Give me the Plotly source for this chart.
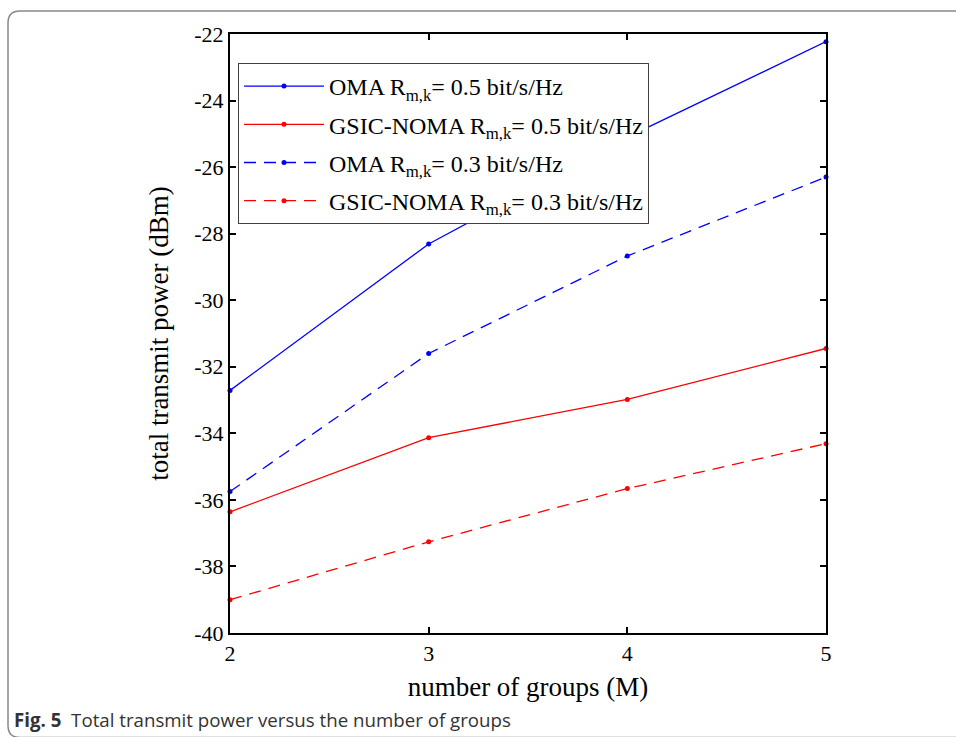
import plotly.graph_objects as go

groups = [2, 3, 4, 5]
oma_05 = [-32.71, -28.31, -25.10, -22.23]
gsic_05 = [-36.36, -34.13, -32.98, -31.45]
oma_03 = [-35.75, -31.60, -28.67, -26.30]
gsic_03 = [-39.00, -37.26, -35.66, -34.31]
names = [
    "OMA R<sub>m,k</sub>= 0.5 bit/s/Hz",
    "GSIC-NOMA R<sub>m,k</sub>= 0.5 bit/s/Hz",
    "OMA R<sub>m,k</sub>= 0.3 bit/s/Hz",
    "GSIC-NOMA R<sub>m,k</sub>= 0.3 bit/s/Hz",
]
y_ticks = [-40, -38, -36, -34, -32, -30, -28, -26, -24, -22]

W, H = 956, 737
L, R, T, B = 230, 130, 34, 104
PW, PH = W - L - R, H - T - B

def px(x):
    return (x - L) / PW

def py(y):
    return (H - B - y) / PH

fig = go.Figure()
series = [(oma_05, "#0000ff", "solid"), (gsic_05, "#ff0000", "solid"),
          (oma_03, "#0000ff", "12px,8px"), (gsic_03, "#ff0000", "12px,8px")]
for i, ((vals, col, dash), nm) in enumerate(zip(series, names)):
    fig.add_trace(go.Scatter(
        x=groups, y=vals, name=nm, mode="lines+markers", legendgroup=f"g{i}",
        line=dict(color=col, width=1.3, dash=dash),
        marker=dict(color=col, size=5), cliponaxis=False,
    ))

serif = "Liberation Serif, Times New Roman, serif"
axis_common = dict(
    showline=True, linecolor="black", linewidth=2, mirror="allticks",
    ticks="inside", ticklen=6, tickwidth=2, tickcolor="black",
    showgrid=False, zeroline=False,
    tickfont=dict(family=serif, size=22, color="black"),
)
fig.update_xaxes(range=[2, 5], tickvals=groups, ticktext=[str(g) for g in groups],
                 title=dict(text="number of groups (M)", font=dict(family=serif, size=27, color="black"), standoff=12),
                 **axis_common)
fig.update_yaxes(range=[-40, -22], tickvals=y_ticks, ticktext=[str(v) for v in y_ticks],
                 title=dict(text="total transmit power (dBm)", font=dict(family=serif, size=27, color="black"), standoff=18),
                 **axis_common)

# frame around figure (rounded rectangle)
x0, y0, r = 8, 11, 12
x1, y1 = 1000, 737.5
path = (f"M {px(x1)},{py(y0)} L {px(x0 + r)},{py(y0)} "
        f"Q {px(x0)},{py(y0)} {px(x0)},{py(y0 + r)} "
        f"L {px(x0)},{py(y1 - r)} Q {px(x0)},{py(y1)} {px(x0 + r)},{py(y1)} L {px(x1)},{py(y1)}")
fig.add_shape(type="path", path=path, xref="paper", yref="paper",
              line=dict(color="#888888", width=1.5), layer="below")

fig.add_annotation(
    text="<b>Fig. 5</b>  Total transmit power versus the number of groups",
    xref="paper", yref="paper", x=px(12), y=py(719), xanchor="left", yanchor="middle",
    showarrow=False, font=dict(family="Open Sans, Noto Sans, sans-serif", size=18.7, color="#333333"),
)

fig.update_layout(
    width=W, height=H, margin=dict(l=L, r=R, t=T, b=B),
    paper_bgcolor="white", plot_bgcolor="white",
    showlegend=True,
    legend=dict(
        x=px(238), y=py(63), xanchor="left", yanchor="top",
        bgcolor="white", bordercolor="#404040", borderwidth=1,
        font=dict(family=serif, size=24, color="black"),
        itemwidth=80, tracegroupgap=4,
    ),
)

fig.write_html("out.html")
